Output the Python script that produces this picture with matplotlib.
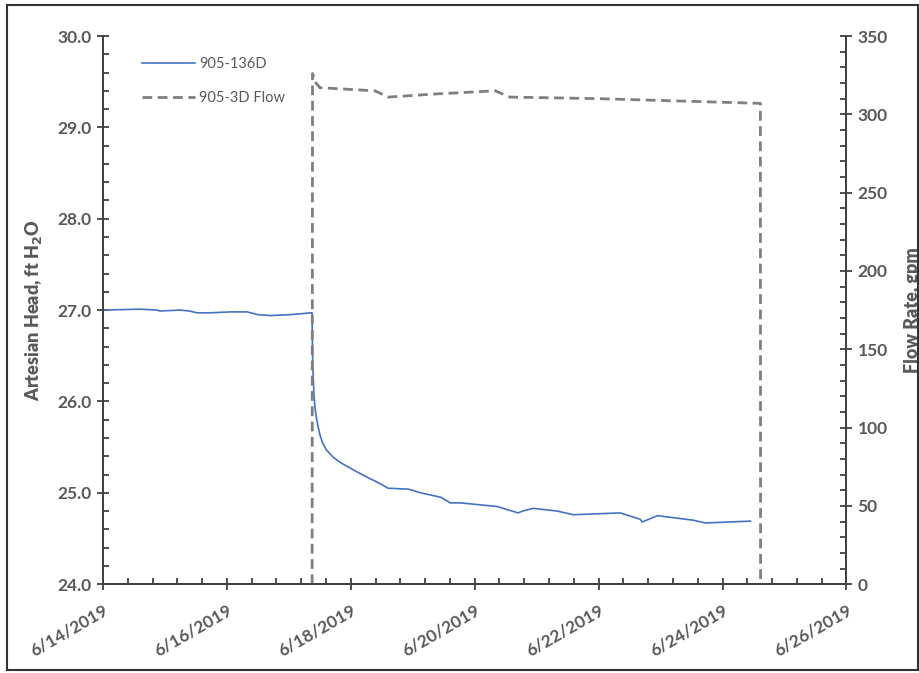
import matplotlib
matplotlib.use("Agg")
import matplotlib.pyplot as plt
import matplotlib.dates as mdates
from matplotlib.ticker import FixedLocator, MultipleLocator, FormatStrFormatter
from matplotlib.patches import Rectangle
import numpy as np
import pandas as pd

# 905-136D artesian head (ft H2O)
head_times = [
    "2019-06-14 00:00", "2019-06-14 14:20", "2019-06-14 21:00", "2019-06-14 22:00",
    "2019-06-15 05:50", "2019-06-15 09:30", "2019-06-15 12:30", "2019-06-15 17:30",
    "2019-06-16 01:10", "2019-06-16 07:50", "2019-06-16 12:00", "2019-06-16 16:50",
    "2019-06-17 00:30", "2019-06-17 08:40", "2019-06-17 09:00", "2019-06-17 09:02",
    "2019-06-17 09:15", "2019-06-17 09:40", "2019-06-17 10:05", "2019-06-17 10:40",
    "2019-06-17 11:20", "2019-06-17 12:10", "2019-06-17 13:10", "2019-06-17 14:30",
    "2019-06-17 17:10", "2019-06-17 20:00", "2019-06-17 23:50", "2019-06-18 03:00",
    "2019-06-18 06:20", "2019-06-18 10:00", "2019-06-18 14:30", "2019-06-18 22:20",
    "2019-06-19 03:00", "2019-06-19 07:50", "2019-06-19 11:00", "2019-06-19 14:30",
    "2019-06-19 18:20", "2019-06-20 08:40", "2019-06-20 16:50", "2019-06-20 18:30",
    "2019-06-20 22:40", "2019-06-21 08:00", "2019-06-21 14:10", "2019-06-22 08:20",
    "2019-06-22 16:10", "2019-06-22 16:50", "2019-06-22 22:50", "2019-06-23 12:40",
    "2019-06-23 17:20", "2019-06-24 10:50",
]
head_values = [
    27.00, 27.01, 27.00, 26.99,
    27.00, 26.99, 26.97, 26.97,
    26.98, 26.98, 26.95, 26.94,
    26.95, 26.97, 26.97, 26.80,
    26.40, 26.10, 25.94, 25.82,
    25.72, 25.62, 25.54, 25.47,
    25.39, 25.33, 25.27, 25.22,
    25.17, 25.12, 25.05, 25.04,
    25.00, 24.97, 24.95, 24.89,
    24.89, 24.85, 24.78, 24.80,
    24.83, 24.80, 24.76, 24.78,
    24.71, 24.68, 24.75, 24.70,
    24.67, 24.69,
]

# 905-3D flow rate (gpm)
flow_times = [
    "2019-06-17 09:00", "2019-06-17 09:10", "2019-06-17 10:30", "2019-06-17 12:00",
    "2019-06-18 09:20", "2019-06-18 14:30", "2019-06-19 09:00", "2019-06-20 08:00",
    "2019-06-20 13:40", "2019-06-22 00:00", "2019-06-24 14:40", "2019-06-24 14:45",
]
flow_values = [0, 326, 320, 317, 315, 311, 313, 315, 311, 310, 307, 0]

x_ticks = ["2019-06-14", "2019-06-16", "2019-06-18", "2019-06-20",
           "2019-06-22", "2019-06-24", "2019-06-26"]
x_tick_labels = ["6/14/2019", "6/16/2019", "6/18/2019", "6/20/2019",
                 "6/22/2019", "6/24/2019", "6/26/2019"]

grey = "#595959"
axis_col = "#404040"
plt.rcParams["font.family"] = ["Lato", "DejaVu Sans"]
plt.rcParams["mathtext.default"] = "bf"

fig = plt.figure(figsize=(9.2, 6.73), dpi=100)
fig.patches.append(Rectangle((0.008, 0.004), 0.990, 0.988, transform=fig.transFigure,
                             fill=False, edgecolor="#333333", linewidth=1.5))
ax = fig.add_axes([0.112, 0.132, 0.808, 0.8145])
ax2 = ax.twinx()

ht = mdates.date2num(pd.to_datetime(head_times))
ft = mdates.date2num(pd.to_datetime(flow_times))
ax.plot(ht, head_values, color="#4472C4", linewidth=1.2, label="905-136D")
ax2.plot(ft, flow_values, color="#7F7F7F", linewidth=2, linestyle=(0, (3.5, 2)),
         label="905-3D Flow")

xt = mdates.date2num(pd.to_datetime(x_ticks))
ax.set_xlim(xt[0], xt[-1])
ax.set_ylim(24, 30)
ax2.set_ylim(0, 350)
ax.xaxis.set_major_locator(FixedLocator(xt))
ax.xaxis.set_minor_locator(FixedLocator(np.arange(xt[0], xt[-1] + 0.01, 0.4)))
ax.set_xticklabels(x_tick_labels, rotation=30, ha="right", rotation_mode="anchor")
ax.yaxis.set_major_locator(MultipleLocator(1))
ax.yaxis.set_minor_locator(MultipleLocator(0.2))
ax.yaxis.set_major_formatter(FormatStrFormatter("%.1f"))
ax2.yaxis.set_major_locator(MultipleLocator(50))
ax2.yaxis.set_minor_locator(MultipleLocator(10))

for a in (ax, ax2):
    a.spines["top"].set_visible(False)
    for s in ("left", "right", "bottom"):
        a.spines[s].set_color(axis_col)
        a.spines[s].set_linewidth(1.3)
    a.tick_params(which="major", direction="inout", length=9, width=1.3,
                  color=axis_col, labelcolor=grey, labelsize=12.5)
    a.tick_params(which="minor", direction="in", length=4, width=1.3, color=axis_col)
    for lab in a.get_xticklabels() + a.get_yticklabels():
        lab.set_fontweight("bold")
ax.tick_params(axis="x", pad=8)

ax.set_ylabel("Artesian Head, ft H$_2$O", color=grey, fontsize=13,
              fontweight="heavy", labelpad=10)
ax2.set_ylabel("Flow Rate, gpm", color=grey, fontsize=13, fontweight="heavy",
               labelpad=12)

h1, l1 = ax.get_legend_handles_labels()
h2, l2 = ax2.get_legend_handles_labels()
leg = ax2.legend(h1 + h2, l1 + l2, loc="upper left", bbox_to_anchor=(0.035, 0.985),
                 frameon=False, fontsize=10.5, handlelength=3.6, labelspacing=1.35,
                 handletextpad=0.3)
for t in leg.get_texts():
    t.set_color(grey)

fig.savefig("out.png", dpi=100)
